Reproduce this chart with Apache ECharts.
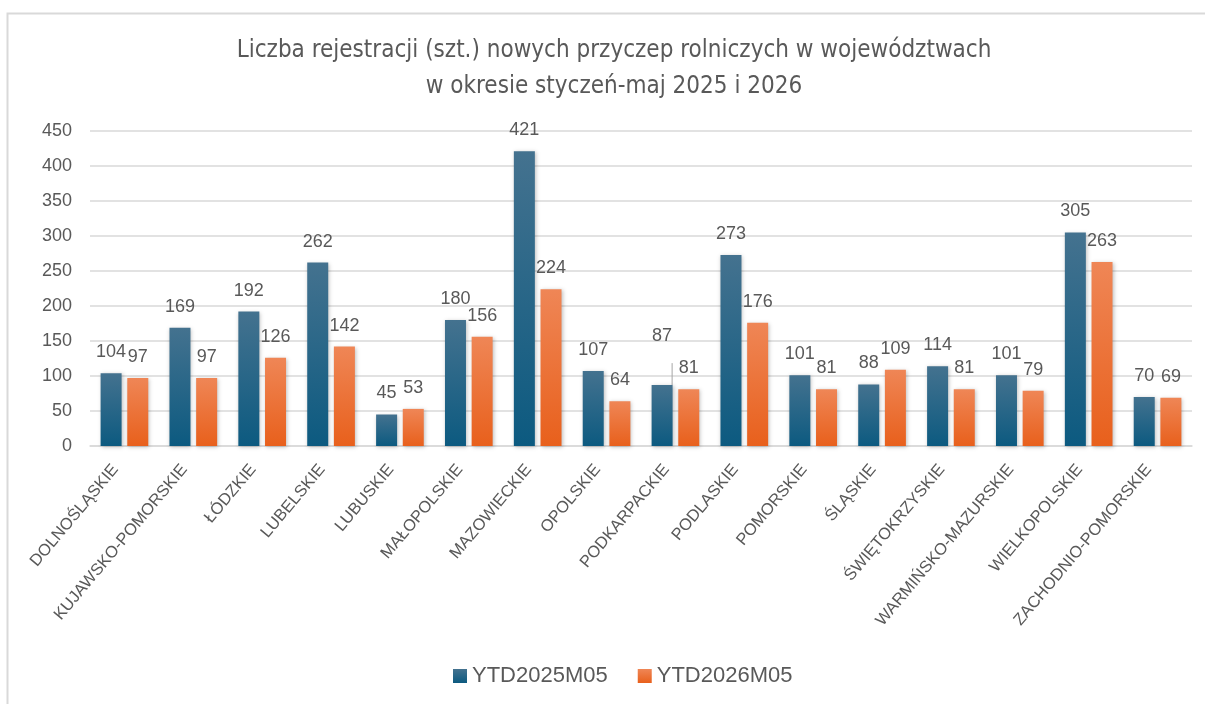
<!DOCTYPE html>
<html>
<head>
<meta charset="utf-8">
<script src="https://cdn.jsdelivr.net/npm/echarts@6/dist/echarts.min.js"></script>
<style>
  html, body { margin: 0; padding: 0; background: #fff; }
  #chart { width: 1205px; height: 704px; }
</style>
</head>
<body>
<div id="chart"></div>
<script>
const categories = ['DOLNOŚLĄSKIE', 'KUJAWSKO-POMORSKIE', 'ŁÓDZKIE', 'LUBELSKIE', 'LUBUSKIE',
  'MAŁOPOLSKIE', 'MAZOWIECKIE', 'OPOLSKIE', 'PODKARPACKIE', 'PODLASKIE', 'POMORSKIE',
  'ŚLĄSKIE', 'ŚWIĘTOKRZYSKIE', 'WARMIŃSKO-MAZURSKIE', 'WIELKOPOLSKIE', 'ZACHODNIO-POMORSKIE'];
const ytd2025 = [104, 169, 192, 262, 45, 180, 421, 107, 87, 273, 101, 88, 114, 101, 305, 70];
const ytd2026 = [97, 97, 126, 142, 53, 156, 224, 64, 81, 176, 81, 109, 81, 79, 263, 69];
const seriesNames = ['YTD2025M05', 'YTD2026M05'];

const textColor = '#595959';
const fontFamily = '"Liberation Sans", Arial, sans-serif';

function grad(top, bottom) {
  return new echarts.graphic.LinearGradient(0, 0, 0, 1, [
    { offset: 0, color: top },
    { offset: 1, color: bottom },
  ]);
}

const chart = echarts.init(document.getElementById('chart'));

const labelCommon = {
  show: true,
  position: 'top',
  distance: 12,
  color: textColor,
  fontSize: 18,
  fontFamily,
};

// the 87 label in Podkarpackie is pulled up with a leader line
const data2025 = ytd2025.map((v, i) => {
  if (categories[i] === 'PODKARPACKIE') {
    return {
      value: v,
      label: { distance: 40 },
      labelLine: { show: true },
    };
  }
  return v;
});

const opts = {
  backgroundColor: '#fff',
  title: {
    text: 'Liczba rejestracji (szt.) nowych przyczep rolniczych w województwach\nw okresie styczeń-maj 2025 i 2026',
    left: 609,
    top: 28,
    textAlign: 'center',
    textStyle: {
      color: textColor,
      fontSize: 24,
      fontWeight: 'normal',
      lineHeight: 36,
      fontFamily: '"DejaVu Sans Condensed", "Liberation Sans", Arial, sans-serif',
    },
  },
  graphic: [{
    type: 'rect',
    shape: { x: 7.5, y: 13.5, width: 1210, height: 700 },
    style: { fill: 'none', stroke: '#d9d9d9', lineWidth: 2 },
    silent: true,
  }],
  legend: {
    data: seriesNames,
    bottom: 12,
    left: 448,
    itemWidth: 14,
    itemHeight: 14,
    itemGap: 30,
    icon: 'rect',
    textStyle: { color: textColor, fontSize: 22, fontFamily },
  },
  grid: {
    left: 90,
    right: 13,
    top: 131,
    bottom: 258,
    containLabel: false,
  },
  xAxis: {
    type: 'category',
    data: categories,
    axisLine: { lineStyle: { color: '#d9d9d9', width: 1.5 } },
    axisTick: { show: false },
    axisLabel: {
      interval: 0,
      rotate: 50,
      color: textColor,
      fontSize: 16.5,
      fontFamily,
      margin: 10,
      padding: [0, 14, 0, 0],
    },
  },
  yAxis: {
    type: 'value',
    min: 0,
    max: 450,
    interval: 50,
    axisLine: { show: false },
    axisTick: { show: false },
    axisLabel: { color: textColor, fontSize: 18, fontFamily, margin: 18 },
    splitLine: { lineStyle: { color: '#d9d9d9', width: 1.5 } },
  },
  series: [
    {
      name: seriesNames[0],
      type: 'bar',
      data: data2025,
      barWidth: 21,
      barGap: '27%',
      itemStyle: {
        color: grad('#44728f', '#0c5a80'),
        shadowColor: 'rgba(0,0,0,0.25)',
        shadowBlur: 4,
        shadowOffsetX: 1,
        shadowOffsetY: 1,
      },
      label: labelCommon,
      labelLine: { lineStyle: { color: '#a6a6a6', width: 1 } },
    },
    {
      name: seriesNames[1],
      type: 'bar',
      data: ytd2026,
      barWidth: 21,
      itemStyle: {
        color: grad('#ef8656', '#e8601c'),
        shadowColor: 'rgba(0,0,0,0.25)',
        shadowBlur: 4,
        shadowOffsetX: 1,
        shadowOffsetY: 1,
      },
      label: labelCommon,
    },
  ],
};

chart.setOption(opts);
</script>
</body>
</html>
